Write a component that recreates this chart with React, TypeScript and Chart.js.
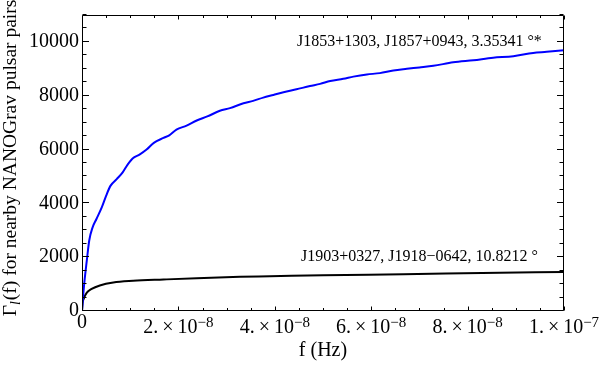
import React, { useEffect, useRef } from 'react';
import { Chart, registerables } from 'chart.js';

Chart.register(...registerables);

const SERIF = '"Liberation Serif", "Times New Roman", Times, serif';

// frequencies in units of 1e-8 Hz
const blueFreq = [0, 0.04, 0.10, 0.15, 0.22, 0.30, 0.41, 0.50, 0.59, 0.72, 0.84, 0.95, 1.05, 1.20, 1.34, 1.49, 1.69, 1.81, 1.96, 2.17, 2.38, 2.60, 2.86, 3.07, 3.35, 3.55, 3.76, 3.97, 4.18, 4.45, 4.73, 4.94, 5.15, 5.42, 5.63, 5.91, 6.18, 6.46, 6.74, 7.00, 7.29, 7.70, 8.12, 8.53, 8.95, 9.36, 9.64, 10.0];
const blueGamma = [0, 900, 1880, 2620, 3110, 3420, 3850, 4280, 4650, 4900, 5140, 5450, 5670, 5820, 6000, 6250, 6430, 6530, 6740, 6890, 7080, 7230, 7440, 7540, 7720, 7810, 7930, 8030, 8130, 8240, 8360, 8440, 8550, 8630, 8710, 8790, 8840, 8940, 9000, 9050, 9110, 9240, 9320, 9410, 9470, 9590, 9630, 9690];

const blackFreq = [0, 0.01, 0.04, 0.10, 0.20, 0.37, 0.65, 1.06, 1.69, 2.38, 3.28, 3.90, 5.00, 6.67, 8.30, 10.0];
const blackGamma = [0, 280, 470, 680, 820, 950, 1060, 1120, 1170, 1220, 1270, 1290, 1330, 1365, 1410, 1450];

const xTickValues = [0, 2e-8, 4e-8, 6e-8, 8e-8, 1e-7];
const xTickMantissa = ['0', '2.\u2009×\u200910', '4.\u2009×\u200910', '6.\u2009×\u200910', '8.\u2009×\u200910', '1.\u2009×\u200910'];
const xTickExponent = ['', '−8', '−8', '−8', '−8', '−7'];

const yTickValues = [0, 2000, 4000, 6000, 8000, 10000];
const yTickLabels = ['0', '2000', '4000', '6000', '8000', '10000'];
const yMax = 11000;
const xMax = 1e-7;

const blueLabel = 'J1853+1303, J1857+0943, 3.35341 °*';
const blackLabel = 'J1903+0327, J1918−0642, 10.8212 °';
const labelFreq = 7e-8;
const blueLabelGamma = 10000;
const blackLabelGamma = 2000;

const xTitle = 'f (Hz)';
const yTitleMain = 'Γ';
const yTitleSub = 'l';
const yTitleRest = '(f) for nearby NANOGrav pulsar pairs';

const framePlugin = {
  id: 'mathematicaFrame',
  afterDraw(chart: any) {
    const { ctx, chartArea, scales } = chart;
    const xs = scales.x;
    const ys = scales.y;
    const L = chartArea.left, R = chartArea.right, T = chartArea.top, B = chartArea.bottom;
    ctx.save();
    ctx.strokeStyle = '#000';
    ctx.lineWidth = 1;
    ctx.beginPath();
    ctx.rect(L + 0.5, T + 0.5, R - L - 1, B - T - 1);
    ctx.stroke();

    // x ticks (bottom and top, inward)
    ctx.beginPath();
    for (let i = 0; i <= 20; i++) {
      const v = i * 0.5e-8;
      const px = Math.round(xs.getPixelForValue(v)) + 0.5;
      const len = i % 4 === 0 ? 4 : 2.5;
      ctx.moveTo(px, B - 0.5);
      ctx.lineTo(px, B - 0.5 - len);
      ctx.moveTo(px, T + 0.5);
      ctx.lineTo(px, T + 0.5 + len);
    }
    // y ticks (left and right, inward)
    for (let i = 0; i <= 22; i++) {
      const v = i * 500;
      const py = Math.round(ys.getPixelForValue(v)) - 0.5;
      const len = i % 4 === 0 ? 6.5 : 4;
      ctx.moveTo(L + 0.5, py);
      ctx.lineTo(L + 0.5 + len, py);
      ctx.moveTo(R - 0.5, py);
      ctx.lineTo(R - 0.5 - len, py);
    }
    ctx.stroke();

    // x tick labels with superscript exponents
    ctx.fillStyle = '#000';
    ctx.textBaseline = 'alphabetic';
    ctx.textAlign = 'left';
    const baseFont = '20px ' + SERIF;
    const supFont = '15px ' + SERIF;
    for (let i = 0; i < xTickValues.length; i++) {
      const px = xs.getPixelForValue(xTickValues[i]);
      const m = xTickMantissa[i];
      const e = xTickExponent[i];
      ctx.font = baseFont;
      const wm = ctx.measureText(m).width;
      ctx.font = supFont;
      const we = e ? ctx.measureText(e).width : 0;
      const start = px - (wm + we) / 2;
      if (!e) {
        ctx.font = baseFont;
        ctx.fillText(m, start, B + 17);
      } else {
        ctx.font = baseFont;
        ctx.fillText(m, start, B + 22);
        ctx.font = supFont;
        ctx.fillText(e, start + wm, B + 15.5);
      }
    }

    // series annotations
    ctx.font = '16px ' + SERIF;
    ctx.textAlign = 'center';
    ctx.textBaseline = 'middle';
    ctx.fillText(blueLabel, xs.getPixelForValue(labelFreq), ys.getPixelForValue(blueLabelGamma));
    ctx.fillText(blackLabel, xs.getPixelForValue(labelFreq), ys.getPixelForValue(blackLabelGamma));

    // rotated y-axis title with italic subscript
    ctx.save();
    ctx.translate(15.5, (T + B) / 2 - 5);
    ctx.rotate(-Math.PI / 2);
    ctx.textAlign = 'left';
    ctx.textBaseline = 'alphabetic';
    ctx.font = '19.5px ' + SERIF;
    const w1 = ctx.measureText(yTitleMain).width;
    const w3 = ctx.measureText(yTitleRest).width;
    ctx.font = 'italic 14px ' + SERIF;
    const w2 = ctx.measureText(yTitleSub).width + 1;
    let x0 = -(w1 + w2 + w3) / 2;
    ctx.font = '19.5px ' + SERIF;
    ctx.fillText(yTitleMain, x0, 0);
    x0 += w1;
    ctx.font = 'italic 14px ' + SERIF;
    ctx.fillText(yTitleSub, x0, 4);
    x0 += w2;
    ctx.font = '19.5px ' + SERIF;
    ctx.fillText(yTitleRest, x0, 0);
    ctx.restore();

    ctx.restore();
  },
};

export default function App() {
  const ref = useRef<HTMLCanvasElement | null>(null);
  useEffect(() => {
    if (!ref.current) return;
    const chart = new Chart(ref.current, {
      type: 'line',
      data: {
        datasets: [
          {
            label: 'J1853+1303, J1857+0943',
            data: blueFreq.map((f, i) => ({ x: f * 1e-8, y: blueGamma[i] })),
            borderColor: '#0000ff',
            borderWidth: 2,
            pointRadius: 0,
            cubicInterpolationMode: 'monotone',
            fill: false,
          },
          {
            label: 'J1903+0327, J1918−0642',
            data: blackFreq.map((f, i) => ({ x: f * 1e-8, y: blackGamma[i] })),
            borderColor: '#000000',
            borderWidth: 2,
            pointRadius: 0,
            cubicInterpolationMode: 'monotone',
            fill: false,
          },
        ],
      },
      options: {
        responsive: false,
        animation: false,
        layout: { padding: { top: 13, right: 36, bottom: 0, left: 0 } },
        plugins: { legend: { display: false }, tooltip: { enabled: false } },
        scales: {
          x: {
            type: 'linear',
            min: 0,
            max: xMax,
            grid: { display: false, drawTicks: false },
            border: { display: false },
            ticks: { display: false },
            title: {
              display: true,
              text: xTitle,
              color: '#000',
              font: { family: SERIF, size: 20 },
              padding: { top: 0, bottom: 2 },
            },
            afterFit: (s: any) => { s.height = 54; },
          },
          y: {
            type: 'linear',
            min: 0,
            max: yMax,
            grid: { display: false, drawTicks: false },
            border: { display: false },
            afterBuildTicks: (s: any) => { s.ticks = yTickValues.map((v) => ({ value: v })); },
            ticks: {
              autoSkip: false,
              color: '#000',
              padding: 3,
              font: { family: SERIF, size: 20 },
              callback: (v: any) => {
                const i = yTickValues.indexOf(Number(v));
                return i >= 0 ? yTickLabels[i] : '';
              },
            },
            afterFit: (s: any) => { s.width = 82; },
          },
        },
      },
      plugins: [framePlugin],
    });
    return () => chart.destroy();
  }, []);
  return (
    <div style={{ position: 'fixed', left: 0, top: 0, width: 600, height: 365, background: '#fff' }}>
      <canvas ref={ref} width={600} height={365} style={{ display: 'block' }} />
    </div>
  );
}
